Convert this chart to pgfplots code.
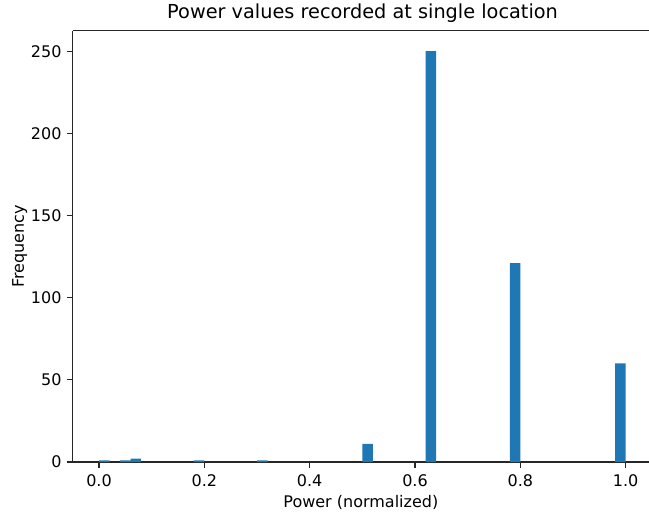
\documentclass[border=0pt]{standalone}
\usepackage{pgfplots}
\pgfplotsset{compat=1.18}
\usepackage{fontspec}
\setmainfont{DejaVu Sans}
\definecolor{mplblue}{HTML}{1F77B4}
\begin{document}
\begin{tikzpicture}
\begin{axis}[
  scale only axis,
  width=576.3pt, height=431.3pt,
  xmin=-0.05, xmax=1.0443,
  ymin=0, ymax=262.5,
  axis x line=box, axis y line=left,
  axis line style={-, line width=1.1pt, black!85},
  xtick={0,0.2,0.4,0.6,0.8,1.0},
  ytick={0,50,100,150,200,250},
  xtick pos=bottom, ytick pos=left,
  tick align=outside,
  major tick length=6pt,
  every tick/.style={line width=1.1pt, black!85},
  /pgf/number format/assume math mode=true,
  xticklabel={\pgfmathprintnumber[fixed,precision=1,zerofill]{\tick}},
  ticklabel style={font=\fontsize{16}{19}\selectfont},
  xticklabel style={inner sep=0pt, yshift=-6pt},
  yticklabel style={inner sep=0pt, xshift=-5pt},
  xlabel={Power (normalized)},
  ylabel={Frequency},
  label style={font=\fontsize{16}{19}\selectfont},
  xlabel style={at={(axis description cs:0.5,0)}, anchor=base, yshift=-45pt},
  ylabel style={at={(axis description cs:0,0.5)}, anchor=base, yshift=48.7pt},
  title={Power values recorded at single location},
  title style={font=\fontsize{19.3}{23}\selectfont, at={(axis description cs:0.503,1)}, anchor=base, yshift=6pt},
  ybar, bar width=0.02,
]
\addplot[fill=mplblue, draw=none] coordinates {
  (0.01,1) (0.05,1) (0.07,2) (0.19,1) (0.31,1) (0.51,11) (0.63,250) (0.79,121) (0.99,60)
};
\coordinate (sw) at (rel axis cs:0,0);
\coordinate (ne) at (rel axis cs:1,1);
\end{axis}
\pgfresetboundingbox
\path ([shift={(-72.7pt,-49pt)}]sw) rectangle ([shift={(0pt,30.7pt)}]ne);
\end{tikzpicture}
\end{document}
